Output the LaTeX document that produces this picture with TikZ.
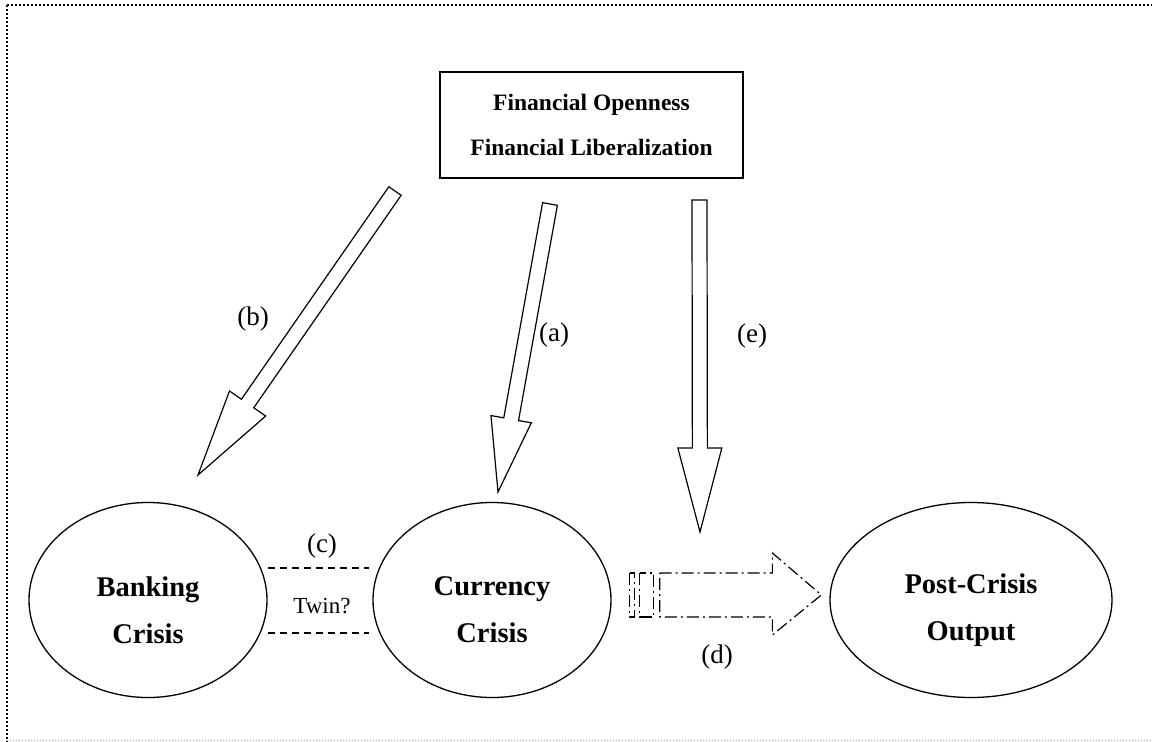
\documentclass[tikz,border=0pt]{standalone}
\usepackage{fontspec}
\setmainfont{Liberation Serif}
\usetikzlibrary{shapes.geometric,calc}

% hollow block arrow: tail, tip, head length, head half width
\newcommand{\fatarrow}[4]{%
  \coordinate (hb) at ($(#2)!#3pt!(#1)$);
  \draw[blockarrow] ($(#1)!7.5pt!90:(#2)$) -- ($(hb)!7.5pt!90:(#2)$)
    -- ($(hb)!#4pt!90:(#2)$) -- (#2) -- ($(hb)!#4pt!-90:(#2)$)
    -- ($(hb)!7.5pt!-90:(#2)$) -- ($(#1)!7.5pt!-90:(#2)$) -- cycle;
}

\begin{document}
\begin{tikzpicture}[x=1pt,y=-1pt,
  crisis/.style={draw,line width=1.3pt,ellipse,inner sep=0pt,minimum height=195pt},
  crisistext/.style={align=center,font=\fontsize{28.5}{47}\selectfont\bfseries},
  finbox/.style={draw,line width=1.4pt,rectangle,minimum width=303pt,minimum height=106pt,
    align=center,font=\fontsize{23.5}{45}\selectfont\bfseries},
  blockarrow/.style={draw,line width=1.2pt,line join=miter},
  dasharrow/.style={draw,line width=1.2pt,dash pattern=on 12pt off 4pt on 2pt off 4pt},
  twinline/.style={line width=1.1pt,dash pattern=on 7pt off 5pt},
  tag/.style={font=\fontsize{27}{30}\selectfont},
  frameline/.style={line width=1.5pt,dash pattern=on 2pt off 2pt},
  baseline/.style={line width=0.8pt,gray!60,dash pattern=on 1pt off 2pt}]
\useasboundingbox (0,0) rectangle (1152,742);

% frame
\draw[frameline] (7,5) -- (1152,5);
\draw[frameline] (7,5) -- (7,742);
\draw[baseline] (7,740) -- (1152,740);

% boxes
\node[finbox] (fin) at (591.5,125) {Financial Openness\\Financial Liberalization};
\node[crisis,minimum width=238pt] (bank) at (148,600) {};
\node[crisis,minimum width=238pt] (curr) at (492,600) {};
\node[crisis,minimum width=282pt] (post) at (971,600) {};
\node[crisistext] (banktxt) at ([yshift=-10pt]bank.center) {Banking\\Crisis};
\node[crisistext] (currtxt) at ([yshift=-10pt]curr.center) {Currency\\Crisis};
\node[crisistext] (posttxt) at ([yshift=-10pt]post.center) {Post-Crisis\\Output};

% arrows from the top box
\coordinate (btail) at (395,191);
\coordinate (btip) at (198,475);
\coordinate (atail) at (550,204);
\coordinate (atip) at (498,492);
\coordinate (etail) at (699.5,200);
\coordinate (etip) at (700,532);
\fatarrow{btail}{btip}{87}{22}
\fatarrow{atail}{atip}{74}{20.5}
\fatarrow{etail}{etip}{84}{22}

% twin link
\draw[twinline] ($(bank.east)+(0,-32)$) -- ($(curr.west)+(-3,-32)$);
\draw[twinline] ($(bank.east)+(0,33)$) -- ($(curr.west)+(-3,33)$);

% striped arrow to output
\coordinate (dtail) at ($(curr.east)+(48,-5)$);
\coordinate (dtip) at ($(post.west)+(-8,-5)$);
\draw[dasharrow] ($(dtail)+(-30,-22)$) rectangle ($(dtail)+(-25,22)$);
\draw[dasharrow] ($(dtail)+(-20,-22)$) rectangle ($(dtail)+(-6,22)$);
\draw[dasharrow] ($(dtail)+(0,-22)$) -- ($(dtip)+(-49,-22)$) -- ($(dtip)+(-49,-42)$)
  -- (dtip) -- ($(dtip)+(-49,40)$) -- ($(dtip)+(-49,22)$) -- ($(dtail)+(0,22)$) -- cycle;

% labels
\node[tag] (labb) at (253,319) {(b)};
\node[tag] (laba) at (554,335) {(a)};
\node[tag] (labe) at (752,336) {(e)};
\node[tag] (labc) at (322,546) {(c)};
\node[tag,font=\fontsize{23}{25}\selectfont] (twin) at (322,606) {Twin?};
\node[tag] (labd) at (717,657) {(d)};
\end{tikzpicture}
\end{document}
